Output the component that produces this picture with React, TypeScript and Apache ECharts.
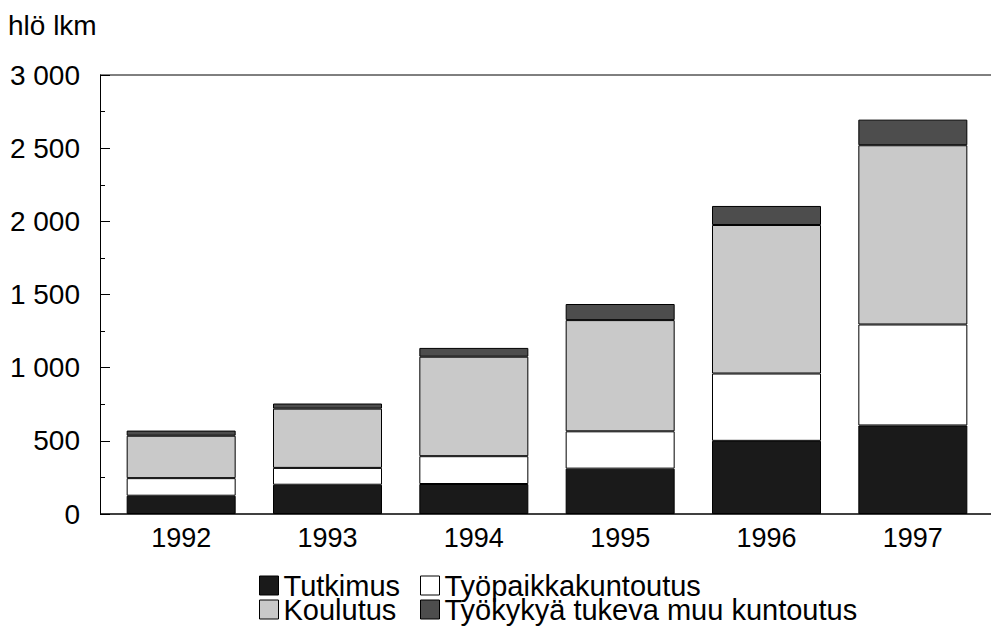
import React, { useEffect, useRef } from "react";
import * as echarts from "echarts";

const years = ["1992", "1993", "1994", "1995", "1996", "1997"];
const tutkimus = [125, 200, 205, 310, 500, 605];
const tyopaikka = [120, 115, 190, 255, 460, 690];
const koulutus = [290, 405, 680, 760, 1015, 1225];
const muu = [35, 35, 60, 110, 130, 175];
const yTickLabels = ["0", "500", "1 000", "1 500", "2 000", "2 500", "3 000"];
const seriesNames = ["Tutkimus", "Työpaikkakuntoutus", "Koulutus", "Työkykyä tukeva muu kuntoutus"];

const FONT = "'Liberation Sans', Arial, sans-serif";

export default function App() {
  const ref = useRef<HTMLDivElement>(null);
  useEffect(() => {
    if (!ref.current) return;
    const chart = echarts.init(ref.current, null, { renderer: "svg" });
    const colors = ["#1a1a1a", "#ffffff", "#c9c9c9", "#4d4d4d"];
    const datas = [tutkimus, tyopaikka, koulutus, muu];
    const legendPos = [
      { left: 259, top: 571 },
      { left: 420, top: 571 },
      { left: 259, top: 595 },
      { left: 420, top: 595 },
    ];
    chart.setOption({
      animation: false,
      textStyle: { fontFamily: FONT },
      grid: { left: 108, right: 5, top: 75, bottom: 118, containLabel: false },
      legend: seriesNames.map((n, i) => ({
        data: [n],
        left: legendPos[i].left,
        top: legendPos[i].top,
        orient: "horizontal",
        icon: "rect",
        itemWidth: 19,
        itemHeight: 19,
        padding: 0,
        itemGap: 0,
        selectedMode: false,
        textStyle: {
          fontFamily: FONT,
          fontSize: 29,
          lineHeight: 24,
          height: 24,
          color: "#000",
          padding: [0, 0, 0, 0],
        },
        itemStyle: { borderColor: "#000", borderWidth: 1 },
      })),
      xAxis: {
        type: "category",
        data: years,
        axisLine: { show: false },
        axisTick: { show: false },
        axisLabel: { fontFamily: FONT, fontSize: 27, color: "#000", margin: 10 },
      },
      yAxis: {
        type: "value",
        min: 0,
        max: 3000,
        interval: 500,
        offset: 8,
        axisLine: { show: true, lineStyle: { color: "#000", width: 1 } },
        axisTick: { show: true, inside: true, length: 10, lineStyle: { color: "#000" } },
        minorTick: { show: true, splitNumber: 2, length: 5, lineStyle: { color: "#000" } },
        splitLine: { show: false },
        axisLabel: {
          fontFamily: FONT,
          fontSize: 28,
          color: "#000",
          margin: 20,
          formatter: (v: number) => yTickLabels[Math.round(v / 500)],
        },
      },
      series: seriesNames.map((n, i) => ({
        name: n,
        type: "bar",
        stack: "total",
        barWidth: 109,
        data: datas[i],
        itemStyle: { color: colors[i], borderColor: "#000", borderWidth: 1 },
      })),
      graphic: [
        {
          type: "line",
          shape: { x1: 100, y1: 75, x2: 991, y2: 75 },
          style: { stroke: "#000", lineWidth: 1 },
        },
        {
          type: "line",
          shape: { x1: 100, y1: 514, x2: 991, y2: 514 },
          style: { stroke: "#000", lineWidth: 1.5 },
        },
        {
          type: "text",
          left: 8,
          top: 11,
          style: { text: "hlö lkm", font: `28px ${FONT}`, fill: "#000" },
        },
      ],
    });
    return () => chart.dispose();
  }, []);
  return (
    <div
      ref={ref}
      style={{ position: "fixed", left: 0, top: 0, width: 991, height: 632, background: "#fff" }}
    />
  );
}
